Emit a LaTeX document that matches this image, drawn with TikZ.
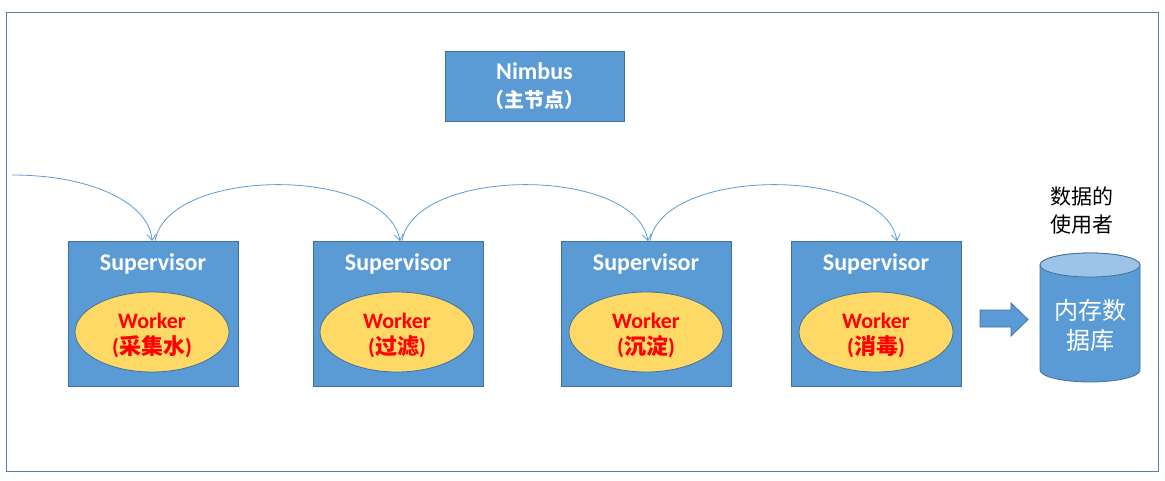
\documentclass[tikz,border=0pt]{standalone}
\usepackage{fontspec}
\setmainfont{Carlito}
\newfontfamily\cjk{Noto Sans CJK SC}
\usetikzlibrary{arrows.meta,shapes.geometric}
\definecolor{boxblue}{HTML}{5B9BD5}
\definecolor{edgeblue}{HTML}{41719C}
\definecolor{lightblue}{HTML}{9DC3E6}
\definecolor{workeryellow}{HTML}{FFD966}
\definecolor{framecol}{HTML}{5A7BA5}
\tikzset{
  bluebox/.style={draw=edgeblue, fill=boxblue, line width=0.9pt, minimum width=170pt, minimum height=145pt, inner sep=0pt},
  suplabel/.style={text=white, font=\fontsize{24}{26}\selectfont\bfseries},
  workernode/.style={draw=edgeblue, fill=workeryellow, ellipse, line width=0.8pt, minimum width=154pt, minimum height=80pt, inner sep=0pt},
  workertext/.style={align=center, text=red, inner sep=0pt, font=\fontsize{22}{26}\selectfont\bfseries},
  flow/.style={draw=boxblue, line width=0.8pt, -{Straight Barb[length=6pt,width=9pt]}},
}
\begin{document}
\begin{tikzpicture}[x=1pt,y=-1pt]
\useasboundingbox (0,0) rectangle (1165,480);
\draw[framecol, line width=0.8pt] (6,12) rectangle (1158,471);
% Nimbus
\node[draw=edgeblue, fill=boxblue, line width=0.9pt, minimum width=179pt, minimum height=70pt, align=center, text=white, inner sep=0pt, font=\fontsize{24}{28}\selectfont\bfseries] (nimbus) at (534.5,86)
  {Nimbus\\{\cjk\fontsize{20}{28}\selectfont\bfseries \hspace*{-6pt}（主节点）\hspace*{-6pt}}};
% Supervisors
\node[bluebox] (sup1) at (153,313.5) {};
\node[bluebox] (sup2) at (398,313.5) {};
\node[bluebox] (sup3) at (646,313.5) {};
\node[bluebox] (sup4) at (876,313.5) {};
\node[suplabel] (sl1) at (153,264) {Supervisor};
\node[suplabel] (sl2) at (398,264) {Supervisor};
\node[suplabel] (sl3) at (646,264) {Supervisor};
\node[suplabel] (sl4) at (876,264) {Supervisor};
% Workers
\node[workernode] (w1) at (152,332) {};
\node[workernode] (w2) at (397,332) {};
\node[workernode] (w3) at (646,332) {};
\node[workernode] (w4) at (876,332) {};
\node[workertext] (wt1) at (152,335.5) {Worker\\({\cjk 采集水})};
\node[workertext] (wt2) at (397,335.5) {Worker\\({\cjk 过滤})};
\node[workertext] (wt3) at (646,335.5) {Worker\\({\cjk 沉淀})};
\node[workertext] (wt4) at (876,335.5) {Worker\\({\cjk 消毒})};
% flow arrows
\coordinate (src) at (12,175);
\coordinate (t1) at (152,241);
\coordinate (s2) at (155,241);
\coordinate (t2) at (400,241);
\coordinate (s3) at (402,241);
\coordinate (t3) at (648,241);
\coordinate (s4) at (650,241);
\coordinate (t4) at (897,241);
\draw[flow] (src) .. controls (95,175) and (150,205) .. (t1);
\draw[flow] (s2) .. controls (168,166) and (387,166) .. (t2);
\draw[flow] (s3) .. controls (415,166) and (635,166) .. (t3);
\draw[flow] (s4) .. controls (663,166) and (884,166) .. (t4);
% block arrow
\draw[draw=edgeblue, fill=boxblue, line width=0.8pt] (980,310) -- (1011,310) -- (1011,303) -- (1028,319.5) -- (1011,336) -- (1011,327) -- (980,327) -- cycle;
% database cylinder
\draw[draw=edgeblue, fill=boxblue, line width=0.8pt] (1040,265) -- (1040,370) arc[start angle=180, end angle=360, x radius=50pt, y radius=12pt] -- (1140,265) arc[start angle=0, end angle=180, x radius=50pt, y radius=12pt] -- cycle;
\draw[draw=edgeblue, fill=lightblue, line width=0.8pt] (1090,265) ellipse [x radius=50pt, y radius=12pt];
\node[align=center, text=white, font=\cjk\fontsize{24}{30}\selectfont] (db) at (1090,325) {内存数\\据库};
\node[align=center, text=black, font=\cjk\fontsize{21}{28}\selectfont] (user) at (1082,211) {数据的\\使用者};
\end{tikzpicture}
\end{document}
